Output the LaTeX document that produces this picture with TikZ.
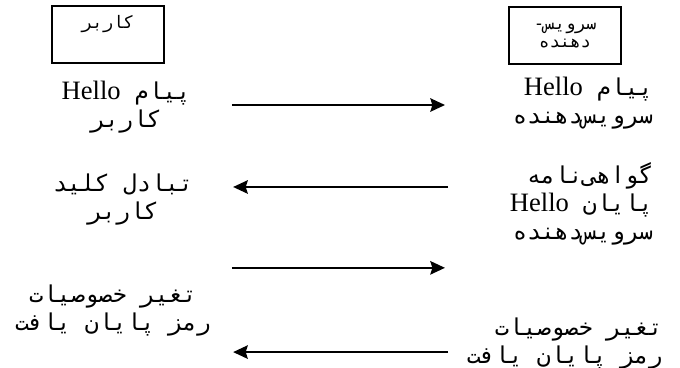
\documentclass[tikz,border=0pt]{standalone}
\usepackage{fontspec}
\setmainfont{Liberation Serif}
\newfontfamily\farsifont[Script=Arabic]{DejaVu Sans Mono}
\TeXXeTstate=1
\usetikzlibrary{positioning, arrows.meta}

% one right-to-left line, and a latin word inside it
\newcommand{\fa}[1]{\beginR #1\endR}
\newcommand{\en}[1]{\beginL{\rmfamily\fontsize{20}{21}\selectfont #1}\endL{}}

\begin{document}
\begin{tikzpicture}[>={Stealth[length=11pt,width=10pt,inset=1.5pt]},
    party/.style={draw, line width=1.8pt, minimum width=2.96cm, minimum height=1.51cm,
        align=center, font=\fontsize{13}{14}\selectfont\farsifont},
    msg/.style={font=\fontsize{17.5}{21}\selectfont\farsifont, inner sep=0pt},
    flow/.style={->, line width=2pt}]

    % Page frame
    \useasboundingbox (0,0) rectangle (18,9.74);

    % ================= Parties =================
    \node[party] (user) at (2.86,8.83) {\fa{کاربر}\\ \strut};
    \node[party] (server) at (14.96,8.80) {\fa{سرویس-}\\ \fa{دهنده}};

    % ================= Client messages =================
    \node[msg, align=center] (userHello) at (3.34,6.91) {\fa{پیام \en{Hello}}\\ \fa{کاربر}};
    \node[msg, align=center] (userKey) at (3.26,4.45) {\fa{تبادل کلید}\\ \fa{کاربر}};
    \node[msg, align=center] (userCipher) at (2.99,1.51) {\fa{تغیر خصوصیات}\\ \fa{رمز پایان یافت}};

    % ================= Server messages =================
    \node[msg, align=right, anchor=east] (serverHello) at (17.29,7.02) {\fa{پیام \en{Hello}}\\ \fa{سرویس‌دهنده}};
    \node[msg, align=right, anchor=east] (serverCert) at (17.29,4.34) {\fa{گواهی‌نامه}\\ \fa{پایان \en{Hello}}\\ \fa{سرویس‌دهنده}};
    \node[msg, align=right, anchor=east] (serverCipher) at (17.55,0.65) {\fa{تغیر خصوصیات}\\ \fa{رمز پایان یافت}};

    % ================= Arrows =================
    \coordinate (l1) at (6.14,6.96);  \coordinate (r1) at (11.78,6.96);
    \coordinate (l2) at (6.17,4.79);  \coordinate (r2) at (11.86,4.79);
    \coordinate (l3) at (6.14,2.65);  \coordinate (r3) at (11.78,2.65);
    \coordinate (l4) at (6.17,0.42);  \coordinate (r4) at (11.86,0.42);

    \draw[flow] (l1) -- (r1);
    \draw[flow] (r2) -- (l2);
    \draw[flow] (l3) -- (r3);
    \draw[flow] (r4) -- (l4);

\end{tikzpicture}
\end{document}
